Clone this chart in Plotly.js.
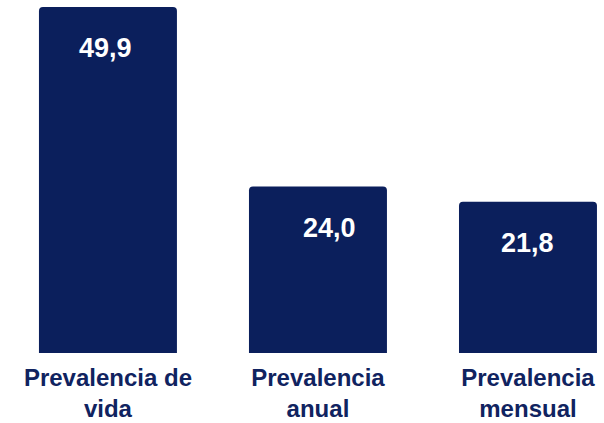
<!DOCTYPE html>
<html>
<head>
<meta charset="utf-8">
<script src="https://cdn.plot.ly/plotly-3.0.1.min.js"></script>
<style>html,body{margin:0;padding:0;background:#fff;}#chart{width:604px;height:423px;}</style>
</head>
<body>
<div id="chart"></div>
<script>
const categories = ["Prevalencia de<br>vida", "Prevalencia<br>anual", "Prevalencia<br>mensual"];
const values = [49.9, 24.0, 21.8];
const valueLabels = ["49,9", "24,0", "21,8"];

const navy = "#0b1f5c";
const labelShift = [-2, 12, 0];

const trace = {
  type: "bar",
  x: categories,
  y: values,
  marker: { color: navy, cornerradius: 4, line: { width: 0 } },
  hoverinfo: "skip"
};

const annotations = categories.map((c, i) => ({
  x: c, y: values[i], xref: "x", yref: "y",
  text: "<b>" + valueLabels[i] + "</b>",
  showarrow: false, yanchor: "middle", yshift: -41, xshift: labelShift[i],
  font: { family: "Liberation Sans, Arial, sans-serif", size: 27, color: "#ffffff" }
}));

const layout = {
  width: 604, height: 423,
  margin: { l: 0, r: 0, t: 7, b: 70, pad: 0 },
  paper_bgcolor: "#ffffff", plot_bgcolor: "#ffffff",
  bargap: 0.343,
  showlegend: false,
  xaxis: {
    type: "category",
    range: [-0.514, 2.362],
    showgrid: false, zeroline: false, showline: false, ticks: "",
    ticklabelstandoff: 8,
    tickfont: { family: "Liberation Sans, Arial, sans-serif", size: 24, color: "#102360", weight: "bold" }
  },
  yaxis: {
    range: [0, 49.9],
    visible: false, showgrid: false, zeroline: false
  },
  annotations: annotations
};

Plotly.newPlot("chart", [trace], layout, { staticPlot: true, displayModeBar: false });
</script>
</body>
</html>
